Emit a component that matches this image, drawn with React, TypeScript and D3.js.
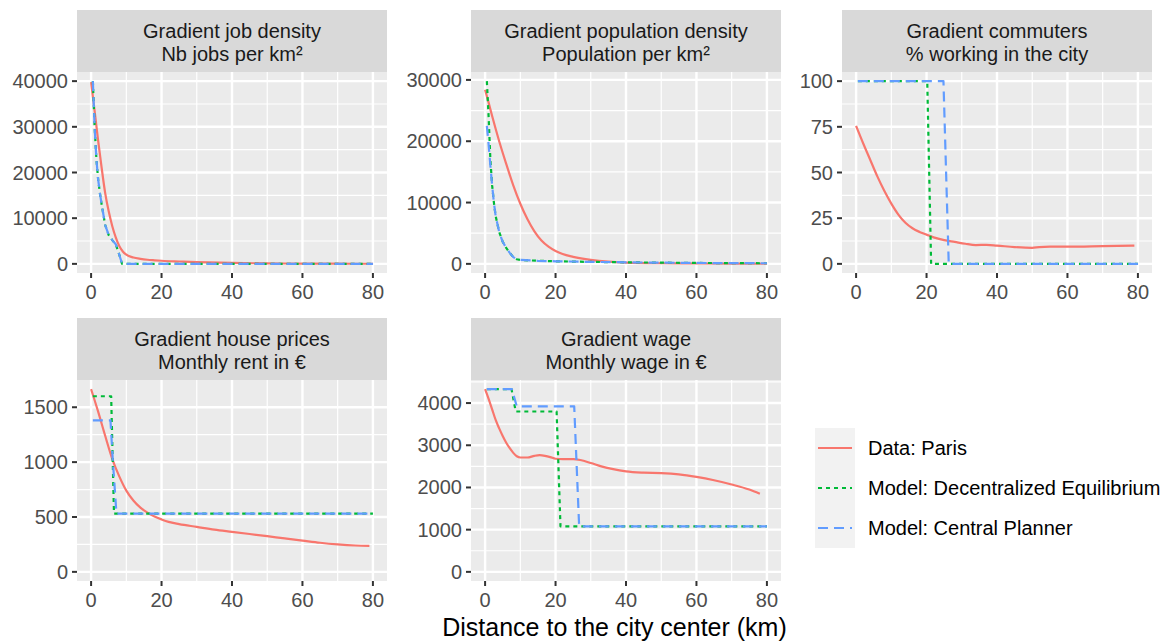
import { useEffect, useRef } from "react";
import * as d3 from "d3";

type Pt = [number, number];

const seriesNames = ["Data: Paris", "Model: Decentralized Equilibrium", "Model: Central Planner"];
const seriesColors = ["#F8766D", "#00BA38", "#619CFF"];
const seriesDash = [null, "4,4", "10,6"];

const xTicks = [0, 20, 40, 60, 80];

// job density
const jobsTicks = [0, 10000, 20000, 30000, 40000];
const jobsParis: Pt[] = [
  [0, 39800], [1, 33500], [2, 27000], [3, 21000], [4, 15500], [5, 11500], [6, 8300], [7, 5800],
  [8, 3900], [9, 2700], [10, 2000], [12, 1400], [14, 1100], [16, 900], [18, 780], [20, 680],
  [25, 520], [30, 380], [40, 200], [50, 110], [60, 70], [70, 40], [80, 20],
];
const jobsDecentral: Pt[] = [
  [0.5, 40000], [1, 30000], [1.5, 23000], [2, 18500], [2.5, 15500], [3, 13000], [4, 8500],
  [5, 6300], [6, 5200], [7, 4300], [8, 2000], [8.8, 0], [80, 0],
];
const jobsPlanner: Pt[] = [
  [0.5, 40000], [1, 30000], [1.5, 23000], [2, 18500], [2.5, 15500], [3, 13000], [4, 8500],
  [5, 6300], [6, 5200], [7, 4300], [8, 2000], [8.8, 0], [80, 0],
];

// population density
const popTicks = [0, 10000, 20000, 30000];
const popParis: Pt[] = [
  [0, 28400], [1, 26300], [2, 24100], [4, 20000], [6, 16300], [8, 12800], [10, 9800], [12, 7300],
  [14, 5300], [16, 3800], [18, 2800], [20, 2100], [22, 1600], [25, 1150], [30, 650], [35, 350],
  [40, 200], [50, 100], [60, 60], [70, 40], [80, 20],
];
const popDecentral: Pt[] = [
  [0.5, 29800], [1, 24000], [1.5, 17000], [2, 12800], [2.5, 10000], [3, 7800], [4, 5200],
  [5, 3600], [6, 2600], [7, 1800], [8, 1100], [9, 750], [10, 650], [15, 500], [20, 420],
  [30, 320], [40, 250], [50, 200], [60, 150], [70, 120], [80, 100],
];
const popPlanner: Pt[] = [
  [0.5, 22500], [1, 19500], [1.5, 16000], [2, 12800], [2.5, 10000], [3, 7800], [4, 5200],
  [5, 3600], [6, 2600], [7, 1800], [8, 1100], [9, 750], [10, 650], [15, 500], [20, 420],
  [30, 320], [40, 250], [50, 200], [60, 150], [70, 120], [80, 100],
];

// commuters
const commTicks = [0, 25, 50, 75, 100];
const commParis: Pt[] = [
  [0, 75.5], [2, 66], [4, 57], [6, 48], [8, 40], [10, 33], [12, 27], [14, 22.5], [16, 19.5],
  [18, 17.5], [20, 16], [22, 14.5], [25, 13], [28, 12], [31, 11], [34, 10.3], [37, 10.4],
  [40, 10], [45, 9.2], [50, 8.8], [52, 9.2], [55, 9.4], [60, 9.4], [70, 9.7], [79, 10],
];
const commDecentral: Pt[] = [[0.5, 100], [20.2, 100], [21.3, 0], [80, 0]];
const commPlanner: Pt[] = [[0.5, 100], [24.8, 100], [26.3, 0], [80, 0]];

// house prices
const houseTicks = [0, 500, 1000, 1500];
const houseParis: Pt[] = [
  [0, 1665], [2, 1460], [4, 1240], [6, 1030], [8, 870], [10, 740], [12, 650], [14, 585],
  [16, 540], [18, 505], [20, 478], [22, 455], [25, 435], [30, 410], [35, 385], [40, 365],
  [45, 345], [50, 325], [55, 305], [60, 285], [65, 265], [70, 250], [75, 240], [79, 237],
];
const houseDecentral: Pt[] = [[0.5, 1600], [5.7, 1600], [6.5, 530], [80, 530]];
const housePlanner: Pt[] = [[0.5, 1380], [5.5, 1380], [6.2, 1000], [7.2, 530], [80, 530]];

// wage
const wageTicks = [0, 1000, 2000, 3000, 4000];
const wageParis: Pt[] = [
  [0, 4330], [1, 4100], [2, 3850], [3, 3600], [4, 3400], [5, 3220], [6, 3060], [7, 2930],
  [8, 2820], [9, 2740], [10, 2710], [12, 2710], [14, 2750], [15.5, 2765], [17, 2750], [18.5, 2720],
  [20, 2680], [22, 2670], [25, 2670], [27, 2650], [30, 2580], [33, 2500], [36, 2440], [40, 2380],
  [45, 2350], [50, 2340], [55, 2310], [60, 2250], [65, 2170], [70, 2070], [75, 1950], [78, 1850],
];
const wageDecentral: Pt[] = [[0.5, 4330], [7.5, 4330], [8.7, 3800], [20.3, 3800], [21.4, 1080], [80, 1080]];
const wagePlanner: Pt[] = [[0.5, 4330], [7.6, 4330], [9, 3920], [25.3, 3920], [26.7, 1080], [80, 1080]];

const panels = [
  { title: ["Gradient job density", "Nb jobs per km²"], yTicks: jobsTicks, series: [jobsParis, jobsDecentral, jobsPlanner] },
  { title: ["Gradient population density", "Population per km²"], yTicks: popTicks, series: [popParis, popDecentral, popPlanner] },
  { title: ["Gradient commuters", "% working in the city"], yTicks: commTicks, series: [commParis, commDecentral, commPlanner] },
  { title: ["Gradient house prices", "Monthly rent in €"], yTicks: houseTicks, series: [houseParis, houseDecentral, housePlanner] },
  { title: ["Gradient wage", "Monthly wage in €"], yTicks: wageTicks, series: [wageParis, wageDecentral, wagePlanner] },
];

const FONT = "'Liberation Sans', Arial, Helvetica, sans-serif";

export default function App() {
  const ref = useRef<HTMLDivElement>(null);

  useEffect(() => {
    const container = d3.select(ref.current);
    container.selectAll("*").remove();

    const width = 1165, height = 644;
    const svg = container.append("svg")
      .attr("width", width)
      .attr("height", height)
      .style("position", "absolute")
      .style("left", "0px")
      .style("top", "0px")
      .style("background", "#fff")
      .style("font-family", FONT);

    const colLeft = [77, 471, 842];
    const panelW = 310;
    const stripTop = [10, 318];
    const stripH = 62;
    const panelH = 201;

    panels.forEach((p, i) => {
      const col = i % 3, row = Math.floor(i / 3);
      const left = colLeft[col];
      const top = stripTop[row] + stripH;
      const bottom = top + panelH;

      const x = d3.scaleLinear().domain([-4, 84]).range([left, left + panelW]);
      const ymax = d3.max(p.series.flat(), d => d[1]) as number;
      const y = d3.scaleLinear().domain([-0.05 * ymax, 1.05 * ymax]).range([bottom, top]);

      const g = svg.append("g");

      // strip
      g.append("rect").attr("x", left).attr("y", stripTop[row]).attr("width", panelW).attr("height", stripH).attr("fill", "#D9D9D9");
      p.title.forEach((t, k) => {
        g.append("text")
          .attr("x", left + panelW / 2)
          .attr("y", stripTop[row] + 28 + k * 23)
          .attr("text-anchor", "middle")
          .attr("font-size", 20)
          .attr("fill", "#1A1A1A")
          .text(t);
      });

      // panel background
      g.append("rect").attr("x", left).attr("y", top).attr("width", panelW).attr("height", panelH).attr("fill", "#EBEBEB");

      // minor grid
      const yt = p.yTicks;
      const step = yt[1] - yt[0];
      const yMinor = [yt[0] - step / 2, ...yt.map(v => v + step / 2)]
        .filter(v => v >= y.domain()[0] && v <= y.domain()[1]);
      const xMinor = [10, 30, 50, 70];
      g.selectAll(".ymin").data(yMinor).join("line")
        .attr("x1", left).attr("x2", left + panelW)
        .attr("y1", d => y(d)).attr("y2", d => y(d))
        .attr("stroke", "#fff").attr("stroke-width", 1.2);
      g.selectAll(".xmin").data(xMinor).join("line")
        .attr("y1", top).attr("y2", bottom)
        .attr("x1", d => x(d)).attr("x2", d => x(d))
        .attr("stroke", "#fff").attr("stroke-width", 1.2);

      // major grid
      g.append("g").selectAll("line").data(yt).join("line")
        .attr("x1", left).attr("x2", left + panelW)
        .attr("y1", d => y(d)).attr("y2", d => y(d))
        .attr("stroke", "#fff").attr("stroke-width", 2.4);
      g.append("g").selectAll("line").data(xTicks).join("line")
        .attr("y1", top).attr("y2", bottom)
        .attr("x1", d => x(d)).attr("x2", d => x(d))
        .attr("stroke", "#fff").attr("stroke-width", 2.4);

      // lines
      const clipId = `clip${i}`;
      svg.append("clipPath").attr("id", clipId)
        .append("rect").attr("x", left).attr("y", top).attr("width", panelW).attr("height", panelH);
      const lg = g.append("g").attr("clip-path", `url(#${clipId})`);
      p.series.forEach((s, k) => {
        const line = d3.line<Pt>()
          .x(d => x(d[0]))
          .y(d => y(d[1]))
          .curve(k === 0 ? d3.curveMonotoneX : d3.curveLinear);
        lg.append("path")
          .attr("d", line(s))
          .attr("fill", "none")
          .attr("stroke", seriesColors[k])
          .attr("stroke-width", 2.2)
          .attr("stroke-dasharray", seriesDash[k])
          .attr("stroke-linejoin", "round");
      });

      // ticks
      g.append("g").selectAll("line").data(yt).join("line")
        .attr("x1", left - 5).attr("x2", left)
        .attr("y1", d => y(d)).attr("y2", d => y(d))
        .attr("stroke", "#333").attr("stroke-width", 2);
      g.append("g").selectAll("text").data(yt).join("text")
        .attr("x", left - 9)
        .attr("y", d => y(d))
        .attr("dy", "0.35em")
        .attr("text-anchor", "end")
        .attr("font-size", 20)
        .attr("fill", "#4D4D4D")
        .text(d => String(d));
      g.append("g").selectAll("line").data(xTicks).join("line")
        .attr("x1", d => x(d)).attr("x2", d => x(d))
        .attr("y1", bottom).attr("y2", bottom + 5)
        .attr("stroke", "#333").attr("stroke-width", 2);
      g.append("g").selectAll("text").data(xTicks).join("text")
        .attr("x", d => x(d))
        .attr("y", bottom + 26)
        .attr("text-anchor", "middle")
        .attr("font-size", 20)
        .attr("fill", "#4D4D4D")
        .text(d => String(d));
    });

    // axis title
    svg.append("text")
      .attr("x", (colLeft[0] + colLeft[2] + panelW) / 2)
      .attr("y", 636)
      .attr("text-anchor", "middle")
      .attr("font-size", 25)
      .attr("fill", "#000")
      .text("Distance to the city center (km)");

    // legend
    const legend = svg.append("g");
    seriesNames.forEach((name, k) => {
      const cy = 448 + k * 40;
      legend.append("rect").attr("x", 815).attr("y", cy - 20).attr("width", 40).attr("height", 40).attr("fill", "#F2F2F2");
      legend.append("line")
        .attr("x1", 818).attr("x2", 852).attr("y1", cy).attr("y2", cy)
        .attr("stroke", seriesColors[k]).attr("stroke-width", 2.2)
        .attr("stroke-dasharray", seriesDash[k]);
      legend.append("text")
        .attr("x", 868).attr("y", cy).attr("dy", "0.35em")
        .attr("font-size", 20).attr("fill", "#000")
        .text(name);
    });
  }, []);

  return <div ref={ref}></div>;
}
